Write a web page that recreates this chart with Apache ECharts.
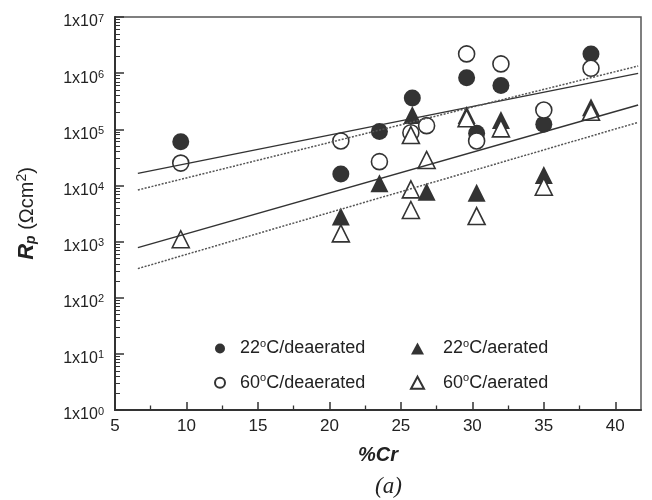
<!DOCTYPE html>
<html>
<head>
<meta charset="utf-8">
<script src="https://cdn.jsdelivr.net/npm/echarts@6/dist/echarts.min.js"></script>
<style>
  html, body { margin: 0; padding: 0; background: #fff; }
  #chart { width: 652px; height: 500px; }
</style>
</head>
<body>
<div id="chart"></div>
<script>
// %Cr vs Rp data
const dea22 = [[9.6, 6.0e4], [20.8, 1.6e4], [23.5, 9.1e4], [25.8, 3.6e5], [29.6, 8.3e5],
  [30.3, 8.5e4], [32.0, 6.0e5], [35.0, 1.23e5], [38.3, 2.2e6]]
const dea60 = [[9.6, 2.5e4], [20.8, 6.2e4], [23.5, 2.65e4], [25.7, 8.7e4], [26.8, 1.16e5],
  [29.6, 2.2e6], [32.0, 1.46e6], [30.3, 6.2e4], [35.0, 2.2e5], [38.3, 1.22e6]]
const aer22 = [[20.8, 2.8e3], [23.5, 1.09e4], [25.8, 1.8e5], [26.8, 7.7e3], [29.6, 1.8e5],
  [32.0, 1.46e5], [30.3, 7.4e3], [35.0, 1.53e4], [38.3, 2.47e5]]
const aer60 = [[9.6, 1.1e3], [20.8, 1.4e3], [25.7, 8.5e3], [25.7, 3.65e3], [26.8, 2.84e4],
  [25.7, 7.9e4], [29.6, 1.57e5], [32.0, 1.04e5], [30.3, 2.85e3], [35.0, 9.5e3], [38.3, 2.05e5]]
// fitted lines (end points)
const fitDeaSolid = [[6.6, 1.64e4], [41.6, 9.9e5]]
const fitDeaDot = [[6.6, 8.3e3], [41.6, 1.34e6]]
const fitAerSolid = [[6.6, 7.8e2], [41.6, 2.7e5]]
const fitAerDot = [[6.6, 3.3e2], [41.6, 1.33e5]]
// axis ticks
const xTicks = [5, 10, 15, 20, 25, 30, 35, 40]
const xMinorTicks = [7.5, 12.5, 17.5, 22.5, 27.5, 32.5, 37.5]
const yTicks = [1e0, 1e1, 1e2, 1e3, 1e4, 1e5, 1e6, 1e7]
const yMinorTicks = []
for (let k = 0; k < 7; k++) {
  for (let m = 2; m <= 9; m++) yMinorTicks.push(m * Math.pow(10, k))
}

const names = {
  dea22: '22°C/deaerated',
  dea60: '60°C/deaerated',
  aer22: '22°C/aerated',
  aer60: '60°C/aerated'
}

const font = 'Liberation Sans, Arial, sans-serif'
const dark = '#333'
const textColor = '#222'

let myChart = echarts.init(document.getElementById('chart'))

function pointSeries (name, data, symbol, filled, size) {
  return {
    name: name,
    type: 'scatter',
    data: data,
    symbol: symbol,
    symbolSize: size,
    itemStyle: {
      color: filled ? dark : '#fff',
      borderColor: dark,
      borderWidth: filled ? 0 : 1.6,
      opacity: 1
    },
    z: filled ? 3 : 4
  }
}

function lineSeries (data, dotted) {
  return {
    type: 'line',
    data: data,
    symbol: 'none',
    silent: true,
    lineStyle: {
      color: dotted ? '#555' : '#333',
      width: 1.5,
      type: dotted ? [2, 1.5] : 'solid'
    },
    z: 5
  }
}

let legendBase = {
  orient: 'vertical',
  top: 333,
  itemWidth: 10,
  itemHeight: 10,
  itemGap: 14.7,
  selectedMode: false,
  formatter: function (name) {
    return name.replace('°', '{sup|o}')
  }
}

function legendText (padLeft) {
  return {
    fontFamily: font,
    fontSize: 18,
    color: textColor,
    padding: [0, 0, 0, padLeft],
    rich: {
      sup: { fontSize: 11, padding: [0, 0, 10, 0], fontFamily: font, color: textColor }
    }
  }
}

let options = {
  backgroundColor: '#fff',
  animation: false,
  grid: {
    left: 115,
    right: 11,
    top: 17,
    bottom: 90,
    show: true,
    borderColor: '#555',
    borderWidth: 1.5
  },
  legend: [
    Object.assign({}, legendBase, {
      left: 209,
      data: [names.dea22, names.dea60],
      textStyle: legendText(10)
    }),
    Object.assign({}, legendBase, {
      left: 405,
      itemWidth: 13,
      itemHeight: 12,
      data: [names.aer22, names.aer60],
      textStyle: legendText(14)
    })
  ],
  xAxis: [{
    type: 'value',
    min: 5,
    max: 41.8,
    name: '%Cr',
    nameLocation: 'middle',
    nameGap: 35,
    nameTextStyle: { fontFamily: font, fontSize: 20, fontWeight: 'bold', fontStyle: 'italic', color: textColor },
    splitLine: { show: false },
    axisLine: { show: true, lineStyle: { color: dark, width: 2 } },
    axisTick: { show: true, inside: true, length: 8, customValues: xTicks, lineStyle: { color: dark, width: 1.5 } },
    axisLabel: { customValues: xTicks, margin: 8, fontFamily: font, fontSize: 17, color: textColor }
  }, {
    type: 'value',
    position: 'bottom',
    min: 5,
    max: 41.8,
    splitLine: { show: false },
    axisLine: { show: false },
    axisTick: { show: true, inside: true, length: 4.5, customValues: xMinorTicks, lineStyle: { color: dark, width: 1.3 } },
    axisLabel: { show: false }
  }],
  yAxis: [{
    type: 'log',
    min: 1,
    max: 1e7,
    logBase: 10,
    name: '{b|R}{s|p}{n| (Ωcm}{u|2}{n|)}',
    nameLocation: 'middle',
    nameGap: 76,
    nameTextStyle: {
      fontFamily: font,
      fontSize: 20,
      color: textColor,
      rich: {
        b: { fontFamily: font, fontSize: 22, fontWeight: 'bold', fontStyle: 'italic', color: textColor },
        s: { fontFamily: font, fontSize: 14, fontWeight: 'bold', fontStyle: 'italic', color: textColor, padding: [8, 0, 0, 0] },
        n: { fontFamily: font, fontSize: 20, color: textColor },
        u: { fontFamily: font, fontSize: 14, color: textColor, padding: [0, 0, 10, 0] }
      }
    },
    splitLine: { show: false },
    axisLine: { show: true, lineStyle: { color: dark, width: 2 } },
    axisTick: { show: true, inside: true, length: 9, customValues: yTicks, lineStyle: { color: dark, width: 1.5 } },
    axisLabel: {
      customValues: yTicks,
      margin: 11,
      padding: [10, 0, 0, 0],
      fontFamily: font,
      fontSize: 16,
      lineHeight: 18,
      color: textColor,
      formatter: function (v) {
        return '1x10{sup|' + Math.round(Math.log10(v)) + '}'
      },
      rich: {
        sup: { fontFamily: font, fontSize: 11, lineHeight: 10, verticalAlign: 'top', color: textColor }
      }
    }
  }, {
    type: 'log',
    position: 'left',
    min: 1,
    max: 1e7,
    splitLine: { show: false },
    axisLine: { show: false },
    axisTick: { show: true, inside: true, length: 5, customValues: yMinorTicks, lineStyle: { color: dark, width: 1 } },
    axisLabel: { show: false }
  }],
  series: [
    pointSeries(names.dea22, dea22, 'circle', true, 17),
    pointSeries(names.aer22, aer22, 'triangle', true, 18),
    pointSeries(names.dea60, dea60, 'circle', false, 16),
    pointSeries(names.aer60, aer60, 'triangle', false, 17),
    lineSeries(fitDeaSolid, false),
    lineSeries(fitDeaDot, true),
    lineSeries(fitAerSolid, false),
    lineSeries(fitAerDot, true)
  ],
  graphic: [{
    type: 'text',
    left: 375,
    top: 475,
    style: {
      text: '(a)',
      fontFamily: 'Liberation Serif, Times New Roman, serif',
      fontStyle: 'italic',
      fontSize: 23,
      fill: textColor
    }
  }]
}
myChart.setOption(options)
</script>
</body>
</html>
